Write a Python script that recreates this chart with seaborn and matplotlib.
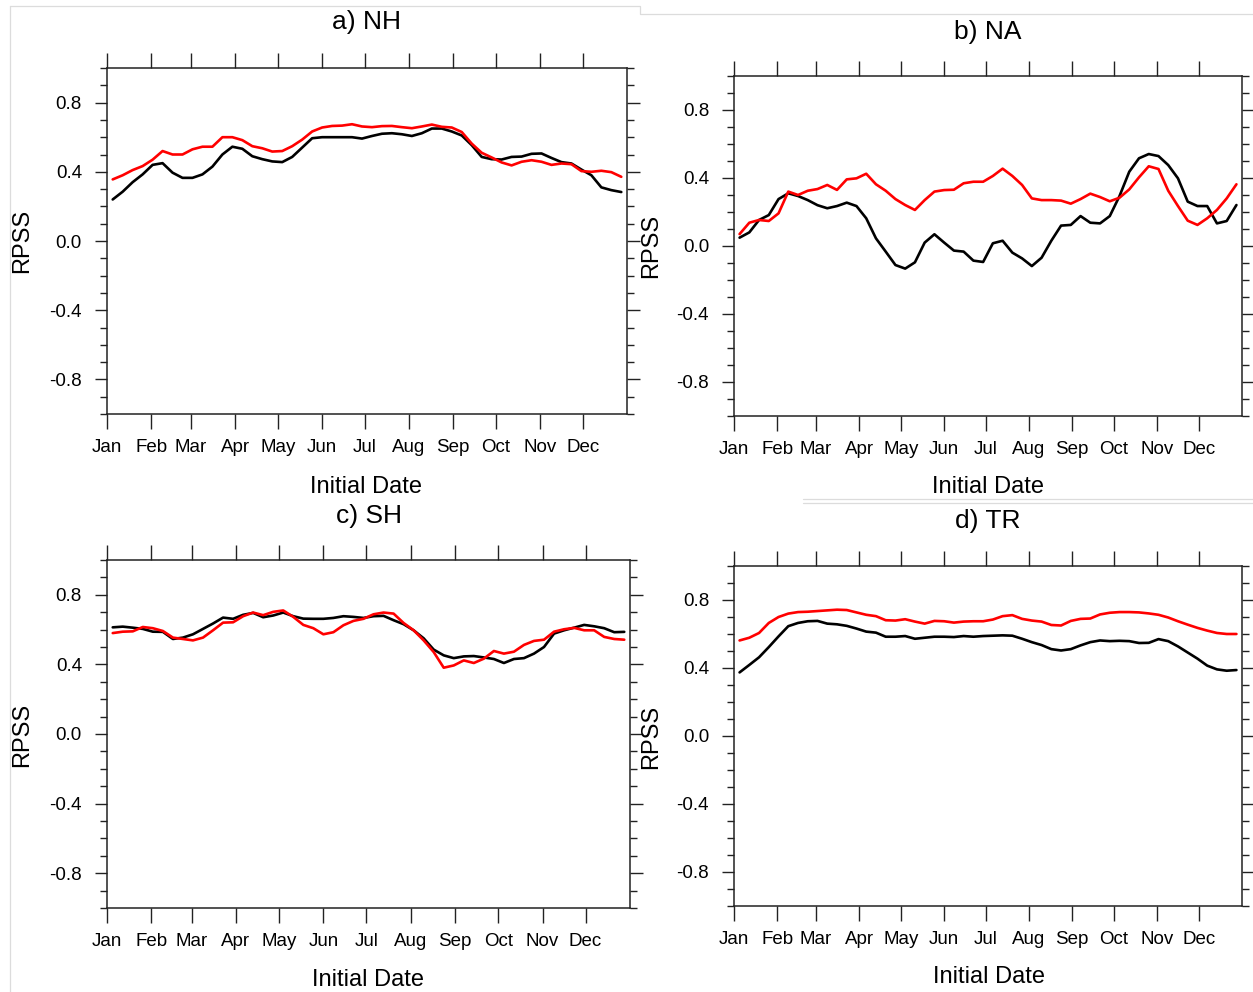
import numpy as np
import pandas as pd
import seaborn as sns
import matplotlib.pyplot as plt
from matplotlib.lines import Line2D
from matplotlib.ticker import MultipleLocator, FixedLocator

sns.set_style("white")
plt.rcParams['font.family'] = ['Liberation Sans', 'DejaVu Sans']
plt.rcParams['axes.unicode_minus'] = False

# weekly initial dates, x axis in day of year
init_dates = pd.date_range("2001-01-05", periods=52, freq="7D")
month_starts = pd.date_range("2001-01-01", periods=12, freq="MS")
month_labels = ["Jan", "Feb", "Mar", "Apr", "May", "Jun",
                "Jul", "Aug", "Sep", "Oct", "Nov", "Dec"]
yticks = [-0.8, -0.4, 0.0, 0.4, 0.8]

nh_black = [0.24, 0.285, 0.34, 0.385, 0.44, 0.45, 0.395, 0.365, 0.365, 0.385,
            0.43, 0.50, 0.545, 0.533, 0.49, 0.473, 0.46, 0.456, 0.486, 0.54,
            0.594, 0.60, 0.60, 0.60, 0.60, 0.592, 0.607, 0.62, 0.623, 0.617,
            0.607, 0.623, 0.65, 0.65, 0.633, 0.61, 0.554, 0.486, 0.473, 0.471,
            0.486, 0.488, 0.504, 0.506, 0.48, 0.456, 0.448, 0.413, 0.38, 0.31,
            0.294, 0.283]
nh_red = [0.356, 0.38, 0.41, 0.433, 0.47, 0.52, 0.50, 0.50, 0.53, 0.545,
          0.545, 0.60, 0.60, 0.583, 0.548, 0.536, 0.517, 0.52, 0.548, 0.586,
          0.633, 0.656, 0.665, 0.667, 0.675, 0.662, 0.658, 0.664, 0.665, 0.658,
          0.652, 0.662, 0.673, 0.66, 0.656, 0.63, 0.563, 0.51, 0.483, 0.454,
          0.437, 0.458, 0.467, 0.458, 0.44, 0.448, 0.444, 0.404, 0.40, 0.406,
          0.398, 0.371]

na_black = [0.049, 0.08, 0.153, 0.182, 0.276, 0.31, 0.294, 0.27, 0.24, 0.222,
            0.235, 0.255, 0.235, 0.163, 0.045, -0.033, -0.112, -0.133, -0.096, 0.02,
            0.069, 0.02, -0.027, -0.033, -0.086, -0.094, 0.016, 0.031, -0.039, -0.073,
            -0.118, -0.069, 0.031, 0.12, 0.124, 0.176, 0.137, 0.133, 0.176, 0.294,
            0.437, 0.516, 0.541, 0.529, 0.476, 0.398, 0.261, 0.235, 0.235, 0.133,
            0.147, 0.241]
na_red = [0.07, 0.137, 0.153, 0.147, 0.192, 0.32, 0.30, 0.325, 0.335, 0.359,
          0.33, 0.392, 0.398, 0.425, 0.363, 0.325, 0.276, 0.241, 0.212, 0.27,
          0.32, 0.329, 0.331, 0.369, 0.378, 0.378, 0.412, 0.455, 0.412, 0.359,
          0.28, 0.27, 0.27, 0.267, 0.249, 0.276, 0.308, 0.288, 0.263, 0.284,
          0.333, 0.404, 0.469, 0.453, 0.325, 0.235, 0.149, 0.124, 0.163, 0.212,
          0.28, 0.363]

sh_black = [0.613, 0.617, 0.611, 0.604, 0.588, 0.587, 0.546, 0.554, 0.573, 0.604,
            0.635, 0.669, 0.662, 0.685, 0.696, 0.671, 0.681, 0.698, 0.677, 0.663,
            0.662, 0.662, 0.667, 0.677, 0.673, 0.667, 0.677, 0.679, 0.654, 0.631,
            0.596, 0.55, 0.485, 0.452, 0.436, 0.446, 0.448, 0.44, 0.431, 0.408,
            0.431, 0.436, 0.462, 0.50, 0.577, 0.596, 0.611, 0.627, 0.619, 0.608,
            0.585, 0.587]
sh_red = [0.58, 0.588, 0.59, 0.615, 0.608, 0.592, 0.554, 0.546, 0.538, 0.554,
          0.596, 0.64, 0.642, 0.677, 0.698, 0.683, 0.702, 0.71, 0.673, 0.627,
          0.608, 0.573, 0.585, 0.625, 0.65, 0.662, 0.688, 0.698, 0.692, 0.638,
          0.596, 0.538, 0.471, 0.381, 0.394, 0.423, 0.408, 0.433, 0.477, 0.462,
          0.473, 0.512, 0.535, 0.542, 0.588, 0.602, 0.61, 0.596, 0.596, 0.558,
          0.546, 0.542]

tr_black = [0.374, 0.418, 0.463, 0.523, 0.586, 0.646, 0.665, 0.675, 0.677, 0.661,
            0.657, 0.648, 0.632, 0.614, 0.608, 0.584, 0.584, 0.588, 0.572, 0.578,
            0.584, 0.584, 0.582, 0.588, 0.584, 0.588, 0.59, 0.592, 0.59, 0.572,
            0.552, 0.535, 0.511, 0.503, 0.511, 0.533, 0.552, 0.562, 0.558, 0.56,
            0.558, 0.547, 0.548, 0.57, 0.558, 0.527, 0.491, 0.455, 0.414, 0.392,
            0.384, 0.388]
tr_red = [0.562, 0.578, 0.606, 0.665, 0.70, 0.72, 0.729, 0.731, 0.735, 0.739,
          0.743, 0.741, 0.727, 0.713, 0.705, 0.681, 0.679, 0.687, 0.673, 0.661,
          0.677, 0.675, 0.667, 0.673, 0.675, 0.675, 0.685, 0.705, 0.711, 0.689,
          0.679, 0.673, 0.653, 0.65, 0.677, 0.689, 0.691, 0.715, 0.725, 0.729,
          0.729, 0.727, 0.721, 0.713, 0.697, 0.675, 0.655, 0.636, 0.62, 0.606,
          0.60, 0.60]

W, H = 1253, 992
fig = plt.figure(figsize=(W / 100, H / 100), dpi=100)

# (title, black, red, frame box in pixels l, t, r, b, title xy, xlabel xy, ylabel xy)
panels = [
    ("a) NH", nh_black, nh_red, (107, 68, 627, 414), (367, 22), (366, 487), (22, 241)),
    ("b) NA", na_black, na_red, (734, 76, 1242, 416), (988, 32), (988, 487), (651, 246)),
    ("c) SH", sh_black, sh_red, (107, 560, 630, 908), (369, 516), (368, 980), (22, 735)),
    ("d) TR", tr_black, tr_red, (734, 566, 1242, 906), (988, 521), (989, 977), (651, 737)),
]

x = init_dates.dayofyear - 1
month_pos = month_starts.dayofyear - 1


def put(xy, s, **kw):
    fig.text(xy[0] / W, 1 - xy[1] / H, s, ha="center", va="center",
             color="black", **kw)


def edge(xs, ys):
    # faint borders of the pasted panel images
    fig.add_artist(Line2D([v / W for v in xs], [1 - v / H for v in ys],
                          color="#dcdcdc", linewidth=0.9))


edge([10, 10], [6, 992])
edge([10, 640, 640, 1253], [6, 6, 14, 14])
edge([803, 1253], [499, 499])
edge([803, 1253], [503, 503])

for title, black, red, box, txy, xxy, yxy in panels:
    l, t, r, b = box
    ax = fig.add_axes([l / W, 1 - b / H, (r - l) / W, (b - t) / H])
    sns.lineplot(x=x, y=black, color="black", linewidth=1.9, ax=ax)
    sns.lineplot(x=x, y=red, color="#ff0000", linewidth=1.9, ax=ax)
    ax.set_xlim(0, 365)
    ax.set_ylim(-1.0, 1.0)
    ax.xaxis.set_major_locator(FixedLocator(month_pos))
    ax.set_xticklabels(month_labels)
    ax.set_yticks(yticks)
    ax.set_yticklabels([f"{v:.1f}" for v in yticks])
    ax.yaxis.set_minor_locator(MultipleLocator(0.1))
    ax.tick_params(axis="both", which="both", direction="out",
                   bottom=True, left=True, top=True, right=True,
                   labeltop=False, labelright=False, color="#222222", width=1.0,
                   labelsize=13.5, labelcolor="black")
    ax.tick_params(axis="x", which="major", length=11, pad=7)
    ax.tick_params(axis="y", which="major", length=9, pad=9)
    ax.tick_params(axis="y", which="minor", length=5)
    for sp in ax.spines.values():
        sp.set_linewidth(1.1)
        sp.set_color("#222222")
    ax.set_xlabel("")
    ax.set_ylabel("")
    put(txy, title, fontsize=19)
    put(xxy, "Initial Date", fontsize=17)
    put(yxy, "RPSS", fontsize=17, rotation=90)

fig.savefig("out.png", dpi=100)
